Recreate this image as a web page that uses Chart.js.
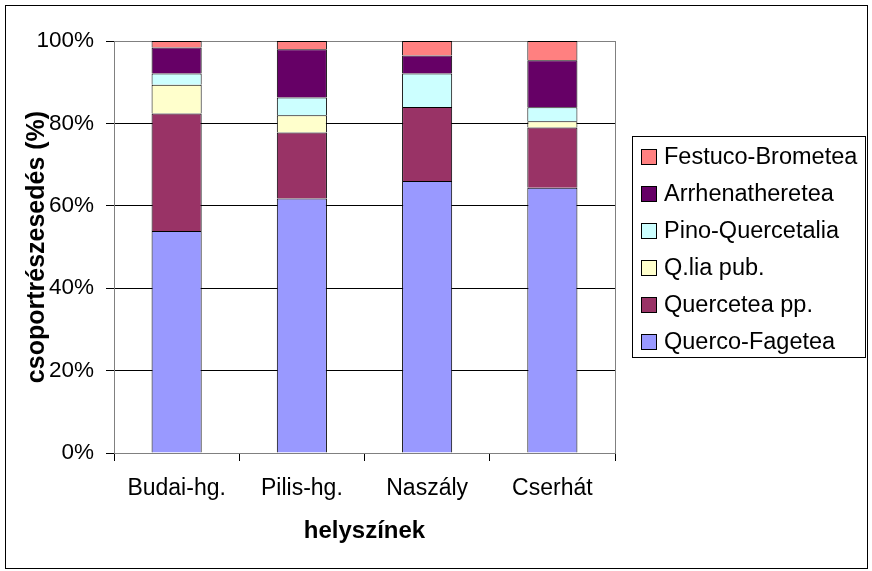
<!DOCTYPE html>
<html>
<head>
<meta charset="utf-8">
<script src="https://cdn.jsdelivr.net/npm/chart.js@4.4.0/dist/chart.umd.min.js"></script>
<style>
  html, body { margin: 0; padding: 0; background: #fff; }
  #wrap { width: 872px; height: 571px; }
</style>
</head>
<body>
<div id="wrap"><canvas id="c" width="872" height="571"></canvas></div>
<script>
const sites = ['Budai-hg.', 'Pilis-hg.', 'Naszály', 'Cserhát'];
const yTicks = [0, 20, 40, 60, 80, 100];

// share of each group, percent (bottom to top of stack)
const quercoFagetea = [53.9, 61.8, 66.0, 64.4];
const querceteaPp = [28.5, 16.0, 18.0, 14.6];
const qliaPub = [7.0, 4.2, 0, 1.5];
const pinoQuercetalia = [2.7, 4.3, 8.1, 3.4];
const arrhenatheretea = [6.3, 11.7, 4.4, 11.4];
const festucoBrometea = [1.6, 2.0, 3.5, 4.7];

const FONT = "'Liberation Sans', Arial, sans-serif";

const makeSet = (label, data, color) => ({
  label,
  data,
  backgroundColor: color,
  borderColor: '#000',
  borderWidth: 1,
  barPercentage: 0.4,
  categoryPercentage: 1,
});

// frame round the whole chart, grey plot border, boxed legend on the right
const excelLook = {
  id: 'excelLook',
  beforeDatasetsDraw(chart) {
    const { ctx, chartArea: a } = chart;
    ctx.save();
    ctx.strokeStyle = '#808080';
    ctx.lineWidth = 1;
    ctx.strokeRect(a.left + 0.5, a.top + 0.5, a.right - a.left, a.bottom - a.top);
    ctx.restore();
  },
  afterDraw(chart) {
    const { ctx } = chart;
    ctx.save();
    ctx.strokeStyle = '#000';
    ctx.lineWidth = 1;
    ctx.strokeRect(5.5, 5.5, 862, 563);

    // legend
    ctx.strokeRect(632.5, 136.5, 233, 221);
    ctx.font = '23.5px ' + FONT;
    ctx.textBaseline = 'middle';
    ctx.textAlign = 'left';
    const sets = chart.data.datasets.slice().reverse();
    sets.forEach((ds, k) => {
      const y = 157 + k * 37;
      ctx.fillStyle = ds.backgroundColor;
      ctx.fillRect(641, y - 8, 16, 16);
      ctx.strokeRect(641.5, y - 7.5, 15, 15);
      ctx.fillStyle = '#000';
      ctx.fillText(ds.label, 664, y + 1);
    });
    ctx.restore();
  },
};

new Chart(document.getElementById('c'), {
  type: 'bar',
  data: {
    labels: sites,
    datasets: [
      makeSet('Querco-Fagetea', quercoFagetea, '#9999FF'),
      makeSet('Quercetea pp.', querceteaPp, '#993366'),
      makeSet('Q.lia pub.', qliaPub, '#FFFFCC'),
      makeSet('Pino-Quercetalia', pinoQuercetalia, '#CCFFFF'),
      makeSet('Arrhenatheretea', arrhenatheretea, '#660066'),
      makeSet('Festuco-Brometea', festucoBrometea, '#FF8080'),
    ],
  },
  options: {
    responsive: false,
    animation: false,
    devicePixelRatio: 1,
    layout: { padding: { left: 0, top: 41, right: 257, bottom: 0 } },
    plugins: {
      legend: { display: false },
      tooltip: { enabled: false },
    },
    scales: {
      x: {
        stacked: true,
        afterFit: (s) => { s.height = 118; },
        border: { color: '#000', width: 1 },
        grid: {
          offset: true,
          drawOnChartArea: false,
          drawTicks: true,
          tickLength: 8,
          tickColor: '#000',
        },
        ticks: { color: '#000', font: { family: FONT, size: 23 }, padding: 14 },
        title: {
          display: true,
          text: 'helyszínek',
          color: '#000',
          font: { family: FONT, size: 24, weight: 'bold' },
          padding: { bottom: 25 },
        },
      },
      y: {
        stacked: true,
        min: 0,
        max: 100,
        afterFit: (s) => { s.width = 114; },
        afterBuildTicks: (s) => { s.ticks = yTicks.map((v) => ({ value: v })); },
        border: { color: '#000', width: 1 },
        grid: {
          color: (c) => (c.tick && c.tick.value === 100 ? '#808080' : '#000'),
          tickColor: '#000',
          tickLength: 8,
        },
        ticks: {
          color: '#000',
          font: { family: FONT, size: 22.5 },
          padding: 12,
          callback: (v) => v + '%',
        },
        title: {
          display: true,
          text: 'csoportrészesedés (%)',
          color: '#000',
          font: { family: FONT, size: 25, weight: 'bold' },
          padding: { top: 22 },
        },
      },
    },
  },
  plugins: [excelLook],
});
</script>
</body>
</html>
